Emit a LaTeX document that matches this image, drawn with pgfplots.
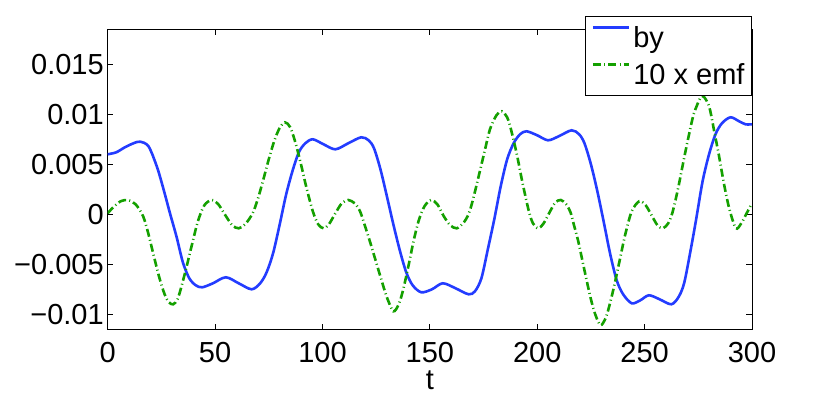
\documentclass[border=0pt]{standalone}
\usepackage{pgfplots}
\pgfplotsset{compat=1.18}
\usepackage{fontspec}
\setmainfont{Liberation Sans}
\definecolor{byblue}{RGB}{35,60,255}
\definecolor{emfgreen}{RGB}{20,160,0}
\pgfplotstableread{
t y
0 0.0060
4 0.0062
8 0.0067
12 0.0071
15 0.00726
19 0.0068
23 0.0047
26 0.0025
29 0.0001
32 -0.0022
35 -0.0048
38 -0.0064
41 -0.0071
44 -0.0073
49 -0.0069
55 -0.0063
61 -0.0069
67 -0.0075
71 -0.0069
74 -0.0058
77 -0.0039
80 -0.0011
83 0.0019
86 0.0043
89 0.0062
92 0.0071
95.5 0.0075
100.5 0.0070
106 0.0065
112 0.0071
118 0.0077
121.5 0.0074
124 0.0066
127 0.0045
130 0.0018
133 -0.0010
136 -0.0036
139 -0.0058
142 -0.0071
146 -0.0078
151 -0.0075
156 -0.0069
162 -0.0074
168 -0.0080
171 -0.0077
174 -0.0064
177 -0.0035
180 -0.0005
183 0.0028
186 0.0055
189 0.0071
192 0.0080
195 0.0083
200 0.0079
205 0.0074
210 0.0078
216 0.0084
219.5 0.0080
222 0.0071
225 0.0050
228 0.0023
231 -0.0008
234 -0.0040
237 -0.0066
240 -0.0080
244 -0.0089
248 -0.0086
252 -0.0081
257 -0.0085
262.5 -0.0090
266 -0.0082
268.5 -0.0068
271.5 -0.0035
274 -0.0005
277 0.0033
280 0.0060
283 0.0080
286 0.0091
290 0.0097
294 0.0093
297 0.0090
300 0.0090
}\bydata
\pgfplotstableread{
t y
0 0.0001
3 0.0008
6 0.0013
9.5 0.00143
13 0.0010
16.5 -0.0002
19 -0.0020
21.5 -0.0042
24 -0.0063
26.5 -0.0080
28.5 -0.0088
30.5 -0.0090
32.5 -0.0085
34.5 -0.0071
37 -0.0050
39.5 -0.0028
42 -0.0007
45 0.0009
48.5 0.00143
51.5 0.0010
54.5 0.0000
58 -0.0011
61 -0.0014
64 -0.0010
67.5 0.0001
70 0.0016
72.5 0.0035
75 0.0055
77.5 0.0073
80 0.0086
82.5 0.0092
85 0.0087
87.5 0.0071
90 0.0050
92.5 0.0027
95.5 0.0003
98 -0.0010
100.5 -0.0014
103 -0.0010
106 0.0001
109 0.0011
112 0.00143
115 0.0011
117.5 0.0003
120 -0.0013
122.5 -0.0030
125 -0.0048
127.5 -0.0066
130 -0.0083
133 -0.0097
135.5 -0.0090
137.5 -0.0076
140 -0.0052
142.5 -0.0026
145 -0.0005
147.5 0.0008
150.5 0.00143
153.5 0.0010
156.5 -0.0002
159.5 -0.0011
162.5 -0.0014
165.5 -0.0009
168 0.0000
170 0.0014
172.5 0.0036
175.5 0.0063
178 0.0085
181 0.0099
183.5 0.0103
186 0.0097
188 0.0083
190.5 0.0060
193 0.0033
196 0.0004
198 -0.0009
200.5 -0.0014
203 -0.0009
206 0.0003
208.5 0.0012
211 0.00143
213.5 0.0010
215.5 0.0002
217 -0.0010
219 -0.0026
221 -0.0046
223 -0.0066
225 -0.0085
227 -0.0100
229.5 -0.0111
232 -0.0103
234 -0.0088
236 -0.0070
238.5 -0.0045
241 -0.0020
244 0.0003
247.5 0.0013
250.5 0.0009
253.5 -0.0002
256 -0.0011
258.5 -0.0014
261 -0.0009
263 0.0002
265.5 0.0025
268 0.0052
270.5 0.0078
273 0.0101
276.5 0.0118
279 0.0113
280.5 0.0104
282.5 0.0082
284.5 0.0060
287 0.0030
289.5 0.0005
292.5 -0.0014
295 -0.0009
297.5 0.0001
300 0.0011
}\emfdata
\begin{document}
\begin{tikzpicture}[x=1pt,y=1pt]
\useasboundingbox (-53.85,-32.35) rectangle (361.15,164.65);
\begin{axis}[
  scale only axis, width=322.15pt, height=150pt,
  at={(0,0)}, anchor=south west,
  xmin=0, xmax=300, ymin=-0.0115, ymax=0.0185,
  xtick={0,50,100,150,200,250,300},
  xticklabels={0,50,100,150,200,250,300},
  ytick={-0.01,-0.005,0,0.005,0.01,0.015},
  yticklabels={−0.01,−0.005,0,0.005,0.01,0.015},
  scaled y ticks=false, scaled x ticks=false,
  tick align=inside, major tick length=2.8pt,
  tick style={black, line width=0.4pt},
  axis line style={line width=0.5pt},
  ticklabel style={font=\fontsize{14.5}{17}\selectfont},
  yticklabel style={inner xsep=1.8pt},
  xticklabel style={yshift=-3pt},
  xlabel={t}, xlabel style={font=\fontsize{14.5}{17}\selectfont, yshift=3pt},
  legend style={at={(1,1.0443)}, anchor=north east, draw=black, line width=0.5pt,
    fill=white, inner xsep=3pt, inner ysep=2pt, row sep=1.6pt, column sep=1.2pt,
    font=\fontsize{14.5}{17}\selectfont,
    nodes={inner sep=0.5pt, text height=13.1pt, text depth=2.8pt}},
  legend cell align=left,
  legend image code/.code={\draw[#1] (0pt,5pt) -- (17.8pt,5pt);},
]
\addplot[byblue, line width=1.3pt, smooth] table[x=t,y=y] {\bydata};
\addlegendentry{by}
\addplot[emfgreen, line width=1.3pt, smooth, dash pattern=on 4pt off 1.6pt on 0.5pt off 1.6pt] table[x=t,y=y] {\emfdata};
\addlegendentry{10 x emf}
\end{axis}
\end{tikzpicture}
\end{document}
